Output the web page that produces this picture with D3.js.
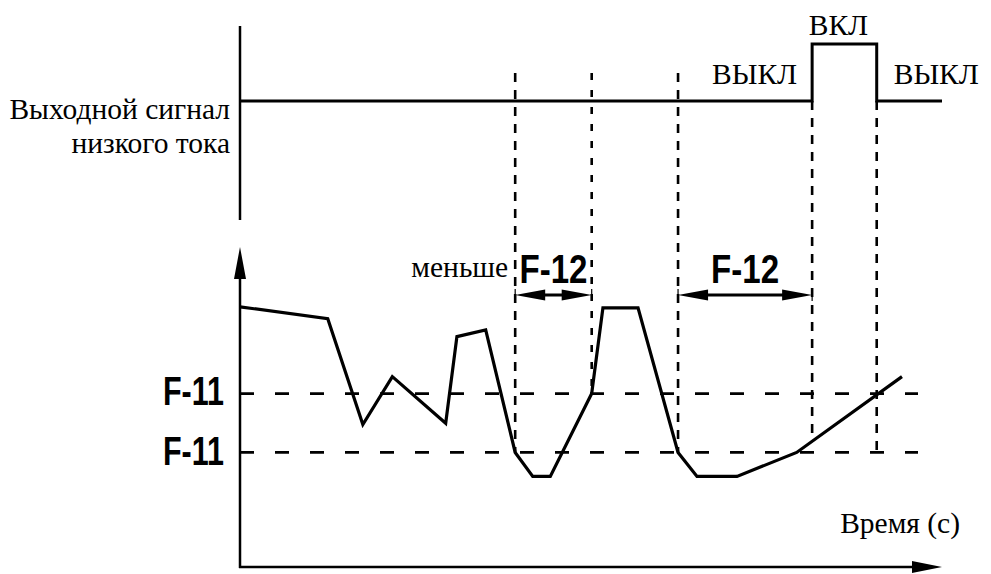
<!DOCTYPE html>
<html><head><meta charset="utf-8">
<script src="https://cdn.jsdelivr.net/npm/d3@7"></script>
<style>body{margin:0;background:#fff}svg{display:block}</style>
</head><body><svg id="c" width="991" height="574"></svg>
<script>
// ---- data ----
const curveTime  = [0, 12.5, 17.5, 21.7, 29.3, 30.9, 35.0, 39.2, 41.7, 44.2, 50.1, 51.7, 56.7, 62.4, 65.1, 70.8, 79.3, 94.3];
const curveValue = [81.3, 77.6, 44.5, 59.5, 44.9, 72.0, 74.1, 35.8, 28.3, 28.3, 54.2, 81.0, 81.0, 35.8, 28.3, 28.3, 35.8, 59.5];
const thresholdValues = [54.2, 35.8];
const thresholdLabels = ["F-11", "F-11"];
const markerTimes    = [39.2, 50.1, 62.4, 81.5, 90.7];
const markerEndValue = [35.8, 54.2, 35.8, 39.6, 35.8];
const signalTimes  = [0, 81.5, 81.5, 90.7, 90.7, 100];
const signalStates = [0, 0, 1, 1, 0, 0];
const stateLabels = ["ВЫКЛ", "ВКЛ", "ВЫКЛ"];
const spanStart = [39.2, 62.4];
const spanEnd   = [50.1, 81.5];
const spanLabels = ["F-12", "F-12"];
const spanValue = 85.0;
const signalTitle = ["Выходной сигнал", "низкого тока"];
const xTitle = "Время (с)";
const lessLabel = "меньше";

// ---- scales ----
const x = d3.scaleLinear().domain([0, 100]).range([240, 942]);
const y = d3.scaleLinear().domain([0, 100]).range([567, 247]);
const s = d3.scaleLinear().domain([0, 1]).range([101, 44]);

const svg = d3.select("#c");
const serif = "'Liberation Serif','Times New Roman',serif";
const lcd = "'Liberation Sans','DejaVu Sans',sans-serif";
const fs = 29.5;

// ---- top signal panel ----
svg.append("line").attr("x1", x(0)).attr("x2", x(0)).attr("y1", 26).attr("y2", 220)
  .attr("stroke", "#000").attr("stroke-width", 2.5);

const sigPts = signalTimes.map((t, i) => [x(t), s(signalStates[i])]);
svg.append("path").attr("d", d3.line()(sigPts)).attr("fill", "none")
  .attr("stroke", "#000").attr("stroke-width", 3).attr("stroke-linejoin", "miter");

svg.selectAll("text.title").data(signalTitle).enter().append("text")
  .attr("x", 230).attr("y", (d, i) => 119 + i * 34)
  .attr("text-anchor", "end").attr("font-family", serif).attr("font-size", fs)
  .text(d => d);

// state labels
svg.append("text").attr("x", x(signalTimes[1]) - 15).attr("y", 84)
  .attr("text-anchor", "end").attr("font-family", serif).attr("font-size", fs).text(stateLabels[0]);
svg.append("text").attr("x", (x(signalTimes[2]) + x(signalTimes[3])) / 2 - 6).attr("y", 35)
  .attr("text-anchor", "middle").attr("font-family", serif).attr("font-size", fs).text(stateLabels[1]);
svg.append("text").attr("x", x(signalTimes[4]) + 17).attr("y", 84)
  .attr("text-anchor", "start").attr("font-family", serif).attr("font-size", fs).text(stateLabels[2]);

// ---- vertical dotted marker lines ----
markerTimes.forEach((t, i) => {
  const top = i < 3 ? 73 : s(0);
  svg.append("line").attr("x1", x(t)).attr("x2", x(t))
    .attr("y1", top).attr("y2", y(markerEndValue[i]))
    .attr("stroke", "#000").attr("stroke-width", 2.6)
    .attr("stroke-dasharray", i === 1 ? "7,10" : "9,8");
});

// ---- threshold dashed lines ----
thresholdValues.forEach((v, i) => {
  svg.append("line").attr("x1", x(0)).attr("x2", 918)
    .attr("y1", y(v)).attr("y2", y(v))
    .attr("stroke", "#000").attr("stroke-width", 2.8).attr("stroke-dasharray", "14,21");
  svg.append("text").attr("x", 163).attr("y", y(v) + (i === 0 ? 11 : 13))
    .attr("font-family", lcd).attr("font-weight", "bold").attr("font-size", 40)
    .attr("textLength", 61).attr("lengthAdjust", "spacingAndGlyphs")
    .text(thresholdLabels[i]);
});

// ---- axes ----
svg.append("line").attr("x1", x(0)).attr("x2", x(0)).attr("y1", y(100) + 25).attr("y2", y(0) + 1)
  .attr("stroke", "#000").attr("stroke-width", 2.5);
svg.append("line").attr("x1", x(0) - 1).attr("x2", x(100) - 20).attr("y1", y(0)).attr("y2", y(0))
  .attr("stroke", "#000").attr("stroke-width", 2.5);
svg.append("path").attr("fill", "#000")
  .attr("d", `M${x(0)},${y(100)} L${x(0) - 6},${y(100) + 32} L${x(0) + 6},${y(100) + 32} Z`);
svg.append("path").attr("fill", "#000")
  .attr("d", `M${x(100)},${y(0)} L${x(100) - 30},${y(0) - 6} L${x(100) - 30},${y(0) + 6} Z`);

svg.append("text").attr("x", 960).attr("y", 533).attr("text-anchor", "end")
  .attr("font-family", serif).attr("font-size", fs).text(xTitle);

// ---- curve ----
const pts = curveTime.map((t, i) => [x(t), y(curveValue[i])]);
svg.append("path").attr("d", d3.line()(pts)).attr("fill", "none")
  .attr("stroke", "#000").attr("stroke-width", 3.2).attr("stroke-linejoin", "miter");

// ---- F-12 spans ----
spanStart.forEach((t0, i) => {
  const x0 = x(t0), x1 = x(spanEnd[i]), yy = y(spanValue);
  svg.append("line").attr("x1", x0 + 20).attr("x2", x1 - 20).attr("y1", yy).attr("y2", yy)
    .attr("stroke", "#000").attr("stroke-width", 3);
  svg.append("path").attr("fill", "#000")
    .attr("d", `M${x0},${yy} L${x0 + 30},${yy - 5.5} L${x0 + 30},${yy + 5.5} Z`);
  svg.append("path").attr("fill", "#000")
    .attr("d", `M${x1},${yy} L${x1 - 30},${yy - 5.5} L${x1 - 30},${yy + 5.5} Z`);
  svg.append("line").attr("x1", x0).attr("x2", x0).attr("y1", yy - 6).attr("y2", yy + 6)
    .attr("stroke", "#000").attr("stroke-width", 1.2);
  svg.append("line").attr("x1", x1).attr("x2", x1).attr("y1", yy - 6).attr("y2", yy + 6)
    .attr("stroke", "#000").attr("stroke-width", 1.2);
  svg.append("text").attr("x", (x0 + x1) / 2).attr("y", yy - 12).attr("text-anchor", "middle")
    .attr("font-family", lcd).attr("font-weight", "bold").attr("font-size", 40)
    .attr("textLength", 68).attr("lengthAdjust", "spacingAndGlyphs")
    .text(spanLabels[i]);
});

svg.append("text").attr("x", x(spanStart[0]) - 7).attr("y", 277).attr("text-anchor", "end")
  .attr("font-family", serif).attr("font-size", fs).text(lessLabel);
</script></body></html>
